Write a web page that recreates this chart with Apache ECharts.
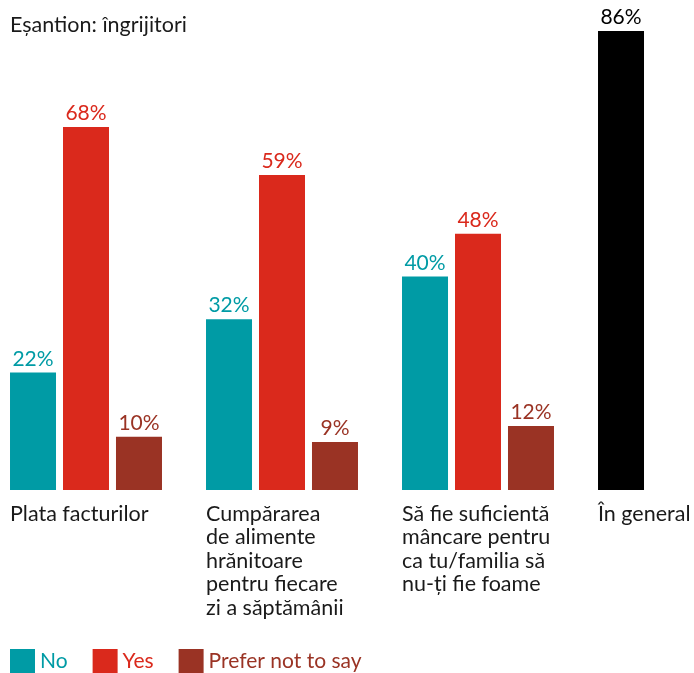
<!DOCTYPE html>
<html>
<head>
<meta charset="utf-8">
<script src="https://cdn.jsdelivr.net/npm/echarts@6/dist/echarts.min.js"></script>
<style>
    html, body { margin: 0; padding: 0; background: #fff; }
    #main { width: 694px; height: 673px; }
</style>
</head>
<body>
<div id="main"></div>
<script>
// categorii (etichete sub grupuri)
const categories = [
    'Plata facturilor',
    'Cumpărarea\nde alimente\nhrănitoare\npentru fiecare\nzi a săptămânii',
    'Să fie suficientă\nmâncare pentru\nca tu/familia să\nnu-ți fie foame',
    'În general'
]
// valori in procente
const noValues = [22, 32, 40, null]
const yesValues = [68, 59, 48, null]
const preferValues = [10, 9, 12, null]
const generalValues = [null, null, null, 86]

const seriesNames = ['No', 'Yes', 'Prefer not to say']
const colors = ['#009ba5', '#da291c', '#9a3324']
const FONT = 'Lato'

const myChart = echarts.init(document.getElementById('main'))

function barSeries(name, data, color, stack) {
    return {
        name: name,
        type: 'bar',
        stack: stack,
        xAxisIndex: 0,
        yAxisIndex: 0,
        barWidth: 46,
        barGap: '15.2%',
        itemStyle: { color: color },
        label: {
            show: true,
            position: 'top',
            distance: 3,
            formatter: '{c}%',
            color: color,
            fontFamily: FONT,
            fontSize: 21
        },
        data: data
    }
}

const option = {
    animation: false,
    title: {
        text: 'Eșantion: îngrijitori',
        left: 10,
        top: 14,
        padding: 0,
        textStyle: {
            fontFamily: FONT,
            fontSize: 21.5,
            fontWeight: 'normal',
            color: '#1a1a1a'
        }
    },
    legend: {
        left: 10,
        top: 649,
        padding: 0,
        itemWidth: 25,
        itemHeight: 24,
        itemGap: 25,
        icon: 'rect',
        textStyle: { fontFamily: FONT, fontSize: 21 },
        data: seriesNames.map((n, i) => ({ name: n, textStyle: { color: colors[i] } }))
    },
    grid: [
        // grila pentru bare
        { left: -12, width: 784, top: 31, bottom: 183, outerBoundsMode: 'none', containLabel: false },
        // grila doar pentru etichete, aliniate la stanga grupului
        { left: -88, width: 784, top: 31, bottom: 183, outerBoundsMode: 'none', containLabel: false }
    ],
    xAxis: [
        {
            type: 'category',
            gridIndex: 0,
            data: categories,
            axisLine: { show: false },
            axisTick: { show: false },
            axisLabel: { show: false }
        },
        {
            type: 'category',
            gridIndex: 1,
            data: categories,
            axisLine: { show: false },
            axisTick: { show: false },
            axisLabel: {
                align: 'left',
                verticalAlign: 'top',
                margin: 12,
                interval: 0,
                fontFamily: FONT,
                fontSize: 21.5,
                lineHeight: 23.5,
                color: '#1a1a1a'
            }
        }
    ],
    yAxis: [
        { type: 'value', gridIndex: 0, min: 0, max: 86, show: false },
        { type: 'value', gridIndex: 1, min: 0, max: 86, show: false }
    ],
    series: [
        barSeries('No', noValues, colors[0], 'a'),
        barSeries('În general', generalValues, '#000000', 'a'),
        barSeries('Yes', yesValues, colors[1]),
        barSeries('Prefer not to say', preferValues, colors[2])
    ]
}

myChart.setOption(option)
</script>
</body>
</html>
